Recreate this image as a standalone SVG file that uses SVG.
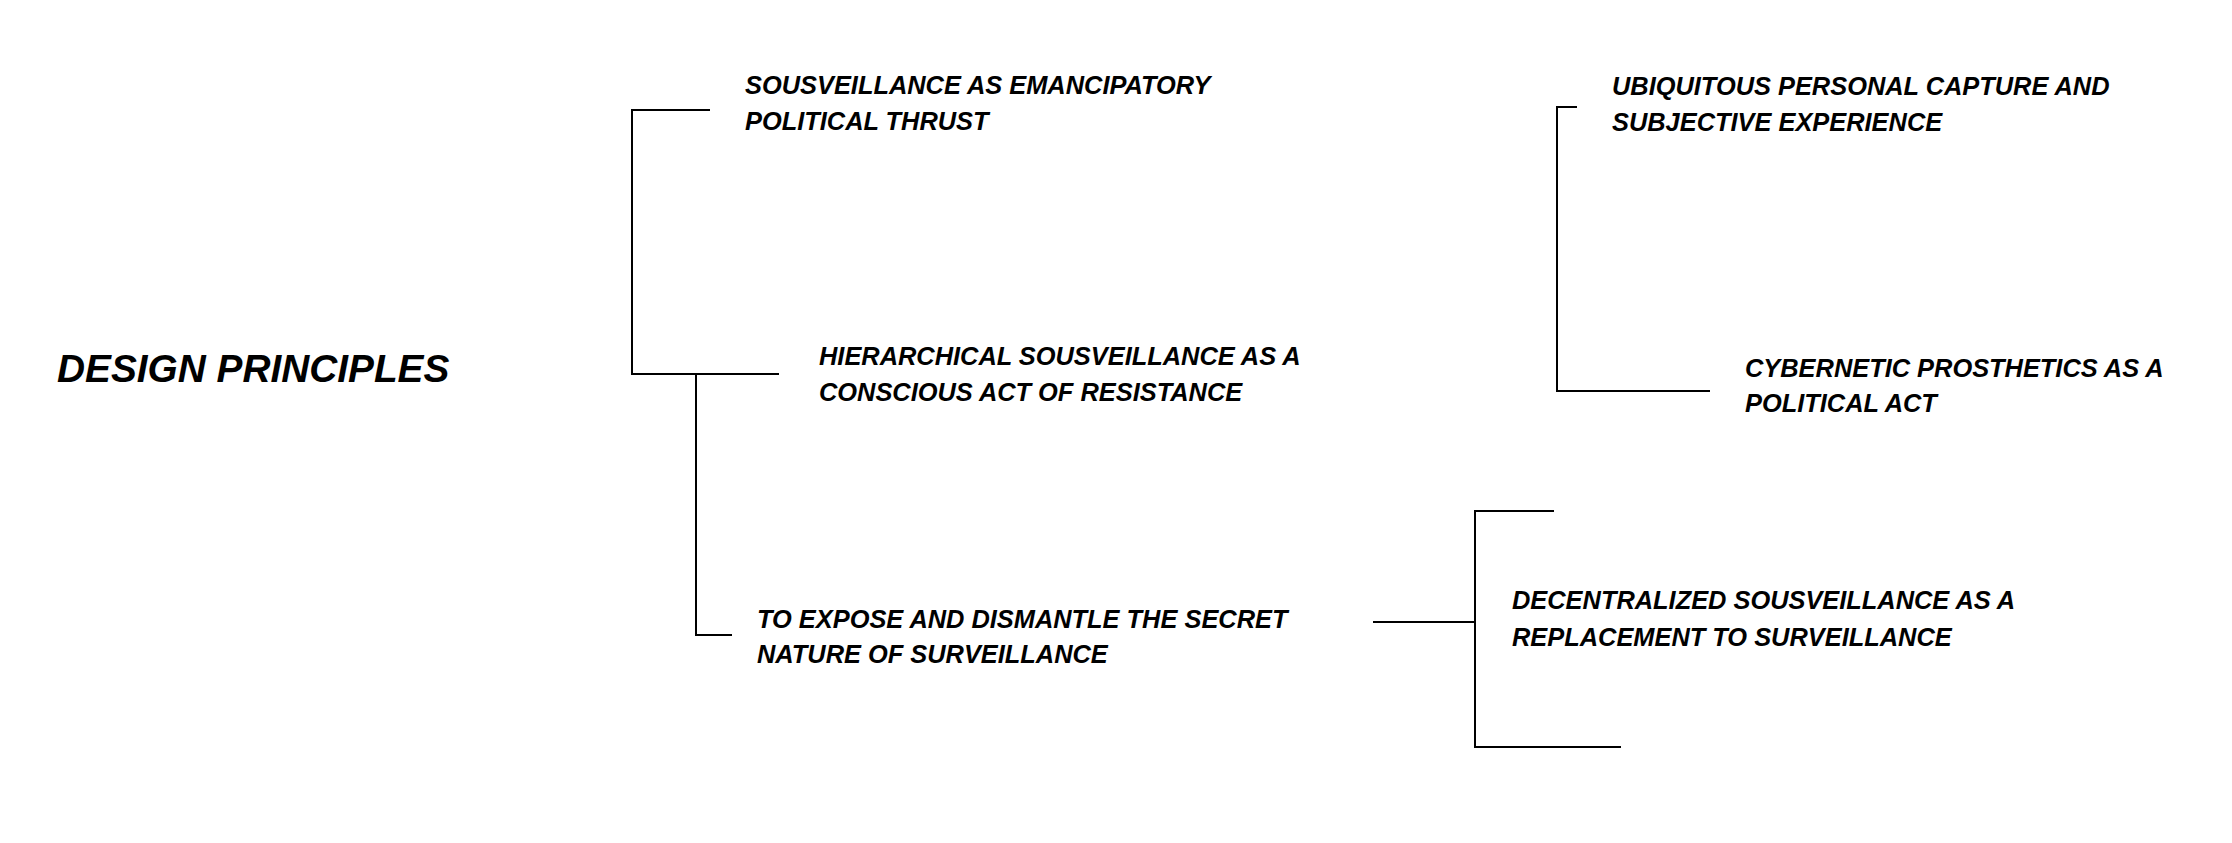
<svg xmlns="http://www.w3.org/2000/svg" width="2232" height="843" viewBox="0 0 2232 843">
<style>
.t{font-family:"Liberation Sans",Arial,sans-serif;font-weight:bold;font-style:italic;font-size:25.4px;fill:#000}
.title{font-size:38.8px}
.c{fill:none;stroke:#000;stroke-width:2}
</style>
<rect width="2232" height="843" fill="#fff"/>
<g id="connectors">
<path class="c" d="M710,110 H632 V374 H779"/>
<path class="c" d="M696,374 V635 H732"/>
<path class="c" d="M1373,622 H1474"/>
<path class="c" d="M1554,511 H1475 V747 H1621"/>
<path class="c" d="M1577,107 H1557 V391 H1710"/>
</g>
<g id="title"><text class="t title" x="57" y="382">DESIGN PRINCIPLES</text></g>
<g id="n1"><text class="t" x="745" y="94">SOUSVEILLANCE AS EMANCIPATORY</text><text class="t" x="745" y="130">POLITICAL THRUST</text></g>
<g id="n2"><text class="t" x="819" y="365">HIERARCHICAL SOUSVEILLANCE AS A</text><text class="t" x="819" y="401">CONSCIOUS ACT OF RESISTANCE</text></g>
<g id="n3"><text class="t" x="757" y="628">TO EXPOSE AND DISMANTLE THE SECRET</text><text class="t" x="757" y="663">NATURE OF SURVEILLANCE</text></g>
<g id="n4"><text class="t" x="1512" y="609">DECENTRALIZED SOUSVEILLANCE AS A</text><text class="t" x="1512" y="646">REPLACEMENT TO SURVEILLANCE</text></g>
<g id="n5"><text class="t" x="1612" y="95">UBIQUITOUS PERSONAL CAPTURE AND</text><text class="t" x="1612" y="131">SUBJECTIVE EXPERIENCE</text></g>
<g id="n6"><text class="t" x="1745" y="377">CYBERNETIC PROSTHETICS AS A</text><text class="t" x="1745" y="412">POLITICAL ACT</text></g>
</svg>
